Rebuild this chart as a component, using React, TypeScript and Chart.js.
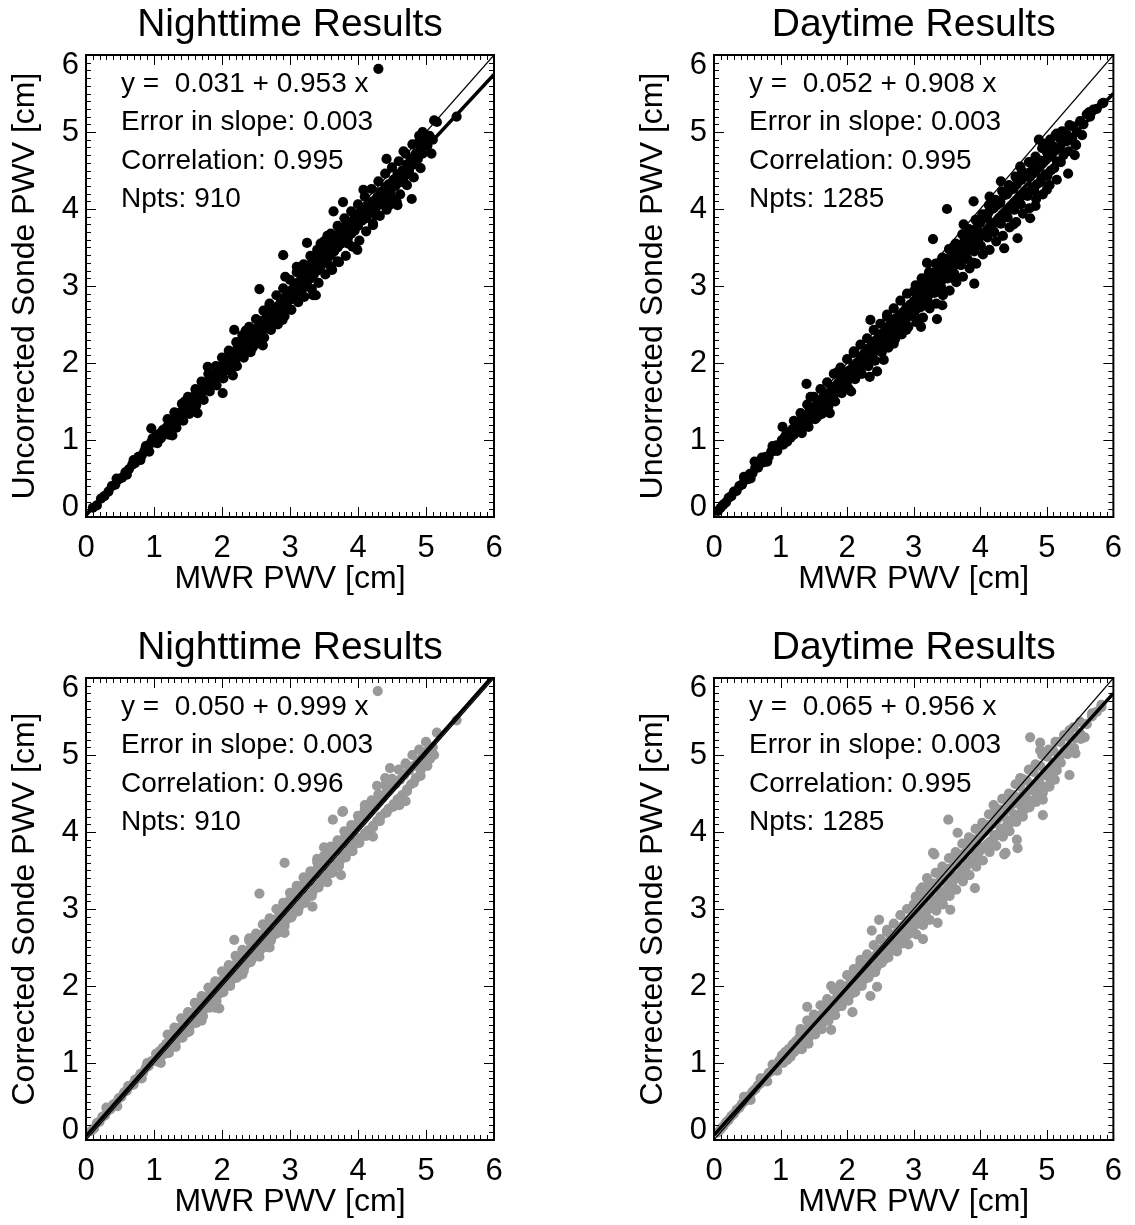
import React, { useEffect, useRef } from "react";
import { Chart, registerables } from "chart.js";

Chart.register(...registerables);

type Pt = [number, number];

const PANEL_TITLES = ["Nighttime Results", "Daytime Results", "Nighttime Results", "Daytime Results"];
const Y_TITLES = [
  "Uncorrected Sonde PWV [cm]",
  "Uncorrected Sonde PWV [cm]",
  "Corrected Sonde PWV [cm]",
  "Corrected Sonde PWV [cm]",
];
const X_TITLE = "MWR PWV [cm]";
const AXIS_TICKS = [0, 1, 2, 3, 4, 5, 6];
const FIT_INTERCEPT = [0.031, 0.052, 0.05, 0.065];
const FIT_SLOPE = [0.953, 0.908, 0.999, 0.956];
const SLOPE_ERROR = [0.003, 0.003, 0.003, 0.003];
const CORRELATION = [0.995, 0.995, 0.996, 0.995];
const NPTS = [910, 1285, 910, 1285];

const NIGHT_UNCORRECTED: Pt[] = [
  [0.10,0.12],[0.16,0.15],[0.22,0.24],[0.27,0.27],[0.33,0.33],[0.38,0.40],[0.43,0.42],[0.48,0.49],[0.53,0.51],[0.58,0.58],
  [0.63,0.62],[0.68,0.68],[0.72,0.70],[0.77,0.78],[0.82,0.80],[0.86,0.86],[0.91,0.89],[0.95,0.96],[1.00,0.97],
  [0.45,0.50],[0.60,0.55],[0.70,0.74],[0.80,0.74],[0.88,0.92],[0.93,0.85],[0.98,1.02],
  [1.03,1.05],[1.05,0.96],[1.08,1.08],[1.10,1.02],[1.13,1.13],[1.15,1.07],[1.18,1.16],[1.20,1.11],[1.23,1.22],[1.26,1.17],
  [1.28,1.25],[1.31,1.21],[1.34,1.32],[1.36,1.26],[1.39,1.36],[1.42,1.33],[1.44,1.42],[1.47,1.38],[1.50,1.47],[1.52,1.41],
  [1.55,1.52],[1.58,1.48],[1.60,1.58],[1.63,1.53],[1.66,1.62],[1.68,1.57],[1.71,1.66],[1.74,1.64],[1.76,1.72],[1.79,1.68],
  [1.82,1.79],[1.84,1.73],[1.87,1.82],[1.90,1.78],[1.92,1.88],[1.95,1.84],[1.98,1.95],
  [0.96,1.15],[1.27,1.06],[1.64,1.35],[1.79,1.95],[2.01,1.61],[1.45,1.50],[1.55,1.40],
  [2.00,1.97],[2.03,1.89],[2.06,2.02],[2.09,1.95],[2.12,2.07],[2.14,2.00],[2.17,2.12],[2.20,2.05],[2.22,2.18],[2.25,2.10],
  [2.28,2.22],[2.30,2.14],[2.33,2.28],[2.36,2.20],[2.38,2.32],[2.41,2.25],[2.44,2.36],[2.46,2.30],[2.49,2.44],[2.52,2.35],
  [2.55,2.48],[2.57,2.40],[2.60,2.55],[2.63,2.45],[2.65,2.58],[2.68,2.52],[2.71,2.62],[2.73,2.55],[2.76,2.68],[2.79,2.60],
  [2.81,2.72],[2.84,2.66],[2.87,2.80],[2.89,2.70],[2.92,2.85],[2.95,2.76],[2.98,2.90],
  [2.16,1.84],[2.18,2.43],[2.60,2.23],[2.55,2.96],[2.89,2.56],[2.35,2.42],[2.45,2.20],[2.70,2.75],[2.85,2.55],
  [3.00,2.82],[3.03,2.95],[3.05,2.87],[3.08,3.00],[3.10,2.90],[3.13,3.05],[3.15,2.95],[3.18,3.10],[3.20,2.98],[3.22,3.18],
  [3.25,3.05],[3.28,3.22],[3.30,3.10],[3.32,3.30],[3.35,3.15],[3.38,3.35],[3.40,3.20],[3.42,3.40],[3.45,3.25],[3.48,3.42],
  [3.50,3.30],[3.52,3.50],[3.55,3.35],[3.58,3.52],[3.60,3.40],[3.62,3.58],[3.65,3.45],[3.68,3.62],[3.70,3.50],[3.72,3.68],
  [3.75,3.55],[3.78,3.70],[3.80,3.58],[3.82,3.78],[3.85,3.62],[3.88,3.80],[3.90,3.68],[3.92,3.85],[3.95,3.72],[3.98,3.90],
  [2.93,3.12],[2.90,3.40],[3.25,3.56],[3.34,2.88],[3.38,2.88],[3.70,3.32],[3.99,3.47],[3.15,3.20],[3.45,3.55],[3.60,3.25],
  [3.10,3.25],[3.55,3.65],
  [4.00,3.78],[4.03,3.95],[4.06,3.85],[4.10,4.00],[4.12,3.88],[4.15,4.05],[4.18,3.95],[4.22,4.10],[4.25,3.98],[4.28,4.15],
  [4.30,4.05],[4.33,4.22],[4.36,4.10],[4.40,4.28],[4.42,4.15],[4.45,4.32],[4.48,4.22],[4.52,4.38],[4.55,4.30],[4.58,4.45],
  [4.62,4.35],[4.65,4.50],[4.68,4.42],[4.72,4.58],[4.75,4.50],[4.78,4.65],[4.82,4.58],[4.85,4.72],[4.88,4.65],[4.92,4.80],
  [4.95,4.72],[4.98,4.88],[5.02,4.82],[5.05,4.95],[5.10,4.90],
  [3.64,3.97],[3.78,4.09],[4.08,4.25],[4.22,3.81],[4.42,4.65],[4.67,4.75],[4.57,4.09],[4.79,4.13],[5.08,4.72],[5.16,5.13],
  [5.12,5.15],[5.45,5.20],[4.30,5.82],[4.58,4.05],[4.90,4.95],[4.95,5.00],
];
const NIGHT_UNCORRECTED_SPREAD: Pt[] = [
  [1.20,1.27],[1.22,1.07],[1.30,1.36],[1.33,1.16],[1.41,1.47],[1.43,1.25],[1.50,1.56],[1.52,1.34],[1.61,1.66],[1.62,1.45],
  [1.70,1.76],[1.73,1.52],[1.80,1.86],[1.82,1.63],[1.91,1.96],[1.92,1.71],[2.00,2.07],[2.02,1.80],[2.10,2.16],[2.12,1.90],
  [2.21,2.27],[2.22,1.96],[2.30,2.36],[2.32,2.07],[2.40,2.47],[2.42,2.14],[2.50,2.57],[2.51,2.25],[2.61,2.68],[2.62,2.33],
  [2.70,2.77],[2.72,2.43],[2.80,2.88],[2.82,2.50],[2.90,2.97],[2.92,2.61],[3.00,3.08],[3.02,2.69],[3.10,3.18],[3.12,2.79],
  [3.20,3.28],[3.21,2.86],[3.30,3.39],[3.32,2.96],[3.40,3.47],[3.42,3.04],[3.50,3.58],[3.52,3.15],[3.60,3.68],[3.62,3.21],
  [3.70,3.78],[3.72,3.31],[3.80,3.88],[3.82,3.39],[3.90,3.97],[3.92,3.51],[4.00,4.06],[4.02,3.59],[4.10,4.16],[4.12,3.71],
  [4.20,4.26],[4.22,3.79],[4.30,4.36],[4.32,3.91],[4.40,4.46],[4.42,3.99],[4.50,4.54],[4.52,4.12],[4.60,4.62],[4.62,4.19],
  [4.70,4.72],[4.72,4.31],[4.80,4.84],[4.82,4.41],[4.90,4.88],[4.92,4.53],[5.00,4.96],[3.86,3.55],[4.26,3.92],[4.46,4.05],
];

const DAY_UNCORRECTED: Pt[] = [
  [0.06,0.08],[0.10,0.12],[0.14,0.16],[0.18,0.19],[0.22,0.25],[0.26,0.27],[0.30,0.33],[0.34,0.34],[0.38,0.40],[0.42,0.42],
  [0.46,0.48],[0.50,0.49],[0.54,0.56],[0.58,0.57],[0.62,0.64],[0.66,0.64],[0.70,0.70],[0.74,0.71],[0.78,0.78],[0.82,0.78],
  [0.86,0.85],[0.90,0.86],[0.94,0.93],[0.98,0.93],
  [0.61,0.72],[0.45,0.52],[0.55,0.50],[0.72,0.77],[0.80,0.72],[0.88,0.92],[0.95,0.86],
  [1.02,1.00],[1.04,0.94],[1.07,1.05],[1.10,0.98],[1.12,1.10],[1.15,1.03],[1.18,1.14],[1.20,1.07],[1.23,1.18],[1.26,1.12],
  [1.28,1.24],[1.31,1.15],[1.34,1.28],[1.36,1.20],[1.39,1.33],[1.42,1.25],[1.44,1.38],[1.47,1.30],[1.50,1.42],[1.52,1.34],
  [1.55,1.47],[1.58,1.38],[1.60,1.52],[1.63,1.43],[1.66,1.56],[1.68,1.48],[1.71,1.60],[1.74,1.52],[1.76,1.65],[1.79,1.56],
  [1.82,1.70],[1.84,1.62],[1.87,1.75],[1.90,1.66],[1.92,1.80],[1.95,1.72],[1.98,1.84],
  [1.03,1.17],[1.39,1.73],[1.45,1.56],[1.74,1.35],[1.70,1.38],[1.20,1.25],[1.55,1.30],[1.85,1.88],
  [2.00,1.76],[2.03,1.90],[2.06,1.82],[2.09,1.96],[2.12,1.86],[2.14,2.00],[2.17,1.92],[2.20,2.06],[2.22,1.96],[2.25,2.12],
  [2.28,2.02],[2.30,2.18],[2.33,2.06],[2.36,2.22],[2.38,2.12],[2.41,2.28],[2.44,2.16],[2.46,2.32],[2.49,2.22],[2.52,2.38],
  [2.55,2.26],[2.57,2.42],[2.60,2.30],[2.63,2.48],[2.65,2.36],[2.68,2.52],[2.71,2.40],[2.73,2.58],[2.76,2.45],[2.79,2.62],
  [2.81,2.50],[2.84,2.66],[2.87,2.55],[2.89,2.72],[2.92,2.60],[2.95,2.76],[2.98,2.65],
  [2.06,1.63],[2.45,1.89],[2.34,1.82],[2.55,2.04],[2.35,2.56],[2.89,2.43],[2.10,2.15],[2.60,2.60],[2.70,2.25],
  [3.00,2.80],[3.02,2.68],[3.05,2.88],[3.08,2.72],[3.10,2.92],[3.13,2.78],[3.15,2.98],[3.18,2.82],[3.20,3.02],[3.22,2.88],
  [3.25,3.08],[3.28,2.92],[3.30,3.12],[3.33,2.98],[3.35,3.18],[3.38,3.02],[3.40,3.22],[3.43,3.08],[3.45,3.28],[3.48,3.12],
  [3.50,3.32],[3.53,3.18],[3.55,3.38],[3.58,3.22],[3.60,3.42],[3.63,3.28],[3.65,3.48],[3.68,3.32],[3.70,3.52],[3.73,3.38],
  [3.75,3.56],[3.78,3.42],[3.80,3.62],[3.83,3.48],[3.85,3.66],[3.88,3.52],[3.90,3.72],[3.93,3.58],[3.95,3.76],[3.98,3.62],
  [3.11,2.47],[3.35,2.57],[3.43,2.75],[3.29,3.61],[3.50,4.00],[3.91,3.03],[3.90,3.30],[3.60,3.10],[3.20,3.30],[3.75,3.80],
  [3.40,2.95],
  [4.00,3.82],[4.03,3.68],[4.06,3.88],[4.10,3.72],[4.12,3.95],[4.15,3.78],[4.18,4.00],[4.22,3.82],[4.25,4.05],[4.28,3.88],
  [4.30,4.10],[4.33,3.92],[4.36,4.18],[4.40,3.98],[4.42,4.22],[4.45,4.02],[4.48,4.28],[4.52,4.08],[4.55,4.32],[4.58,4.12],
  [4.62,4.38],[4.65,4.18],[4.68,4.42],[4.72,4.22],[4.75,4.48],[4.78,4.28],[4.82,4.52],[4.85,4.32],[4.88,4.58],[4.92,4.40],
  [4.95,4.62],[4.98,4.45],[5.02,4.68],[5.06,4.50],[5.10,4.75],[5.15,4.62],[5.20,4.80],[5.25,4.70],[5.30,4.88],[5.38,4.92],
  [5.45,5.00],[5.55,5.10],[5.65,5.20],[5.75,5.30],[5.85,5.38],
  [3.90,4.10],[4.14,4.16],[4.31,4.36],[4.36,3.49],[4.56,3.62],[4.75,3.88],[4.83,4.04],[4.88,4.90],[5.15,4.98],[5.34,5.09],
  [5.64,5.26],[5.83,5.37],[5.32,4.46],[5.15,4.38],[5.42,4.70],[5.44,4.83],[4.95,4.85],[5.05,4.90],[4.60,4.55],[4.50,3.80],
  [5.00,4.25],
];
const DAY_UNCORRECTED_SPREAD: Pt[] = [
  [1.30,1.35],[1.32,1.09],[1.40,1.46],[1.42,1.17],[1.50,1.56],[1.52,1.27],[1.60,1.66],[1.62,1.34],[1.70,1.75],[1.72,1.44],
  [1.80,1.86],[1.82,1.50],[1.90,1.94],[1.92,1.61],[2.00,2.05],[2.02,1.67],[2.10,2.13],[2.12,1.79],[2.20,2.24],[2.22,1.86],
  [2.30,2.32],[2.32,1.96],[2.40,2.43],[2.42,2.03],[2.50,2.51],[2.52,2.14],[2.60,2.63],[2.62,2.20],[2.70,2.71],[2.72,2.31],
  [2.80,2.81],[2.82,2.37],[2.90,2.90],[2.92,2.47],
  [3.00,2.93],[3.03,3.01],[3.01,2.63],[3.04,2.53],[3.10,3.00],[3.12,3.10],[3.11,2.73],[3.14,2.59],
  [3.20,3.10],[3.23,3.18],[3.21,2.81],[3.24,2.71],[3.30,3.17],[3.33,3.29],[3.31,2.91],[3.34,2.77],
  [3.40,3.28],[3.43,3.37],[3.41,2.99],[3.44,2.88],[3.50,3.35],[3.53,3.48],[3.51,3.10],[3.54,2.94],
  [3.60,3.46],[3.63,3.55],[3.61,3.16],[3.64,3.05],[3.70,3.53],[3.73,3.67],[3.71,3.27],[3.74,3.12],
  [3.80,3.64],[3.83,3.74],[3.81,3.35],[3.84,3.23],[3.90,3.71],[3.93,3.86],[3.91,3.45],[3.94,3.29],
  [4.00,3.82],[4.03,3.93],[4.01,3.52],[4.04,3.41],[4.10,3.89],[4.13,4.05],[4.11,3.63],[4.14,3.47],
  [4.20,4.01],[4.23,4.12],[4.21,3.70],[4.24,3.58],[4.30,4.08],[4.33,4.23],[4.31,3.81],[4.34,3.65],
  [4.40,4.19],[4.43,4.31],[4.41,3.89],[4.44,3.76],[4.50,4.26],[4.53,4.42],[4.51,3.99],[4.54,3.83],
  [4.60,4.37],[4.63,4.49],[4.61,4.06],[4.64,3.94],[4.70,4.44],[4.73,4.61],[4.71,4.17],[4.74,4.01],
  [4.80,4.56],[4.83,4.68],[4.81,4.24],[4.84,4.13],[4.90,4.63],[4.93,4.79],[4.91,4.35],[4.94,4.19],
  [5.00,4.74],[5.03,4.85],[5.01,4.43],[5.04,4.31],[5.10,4.81],[5.13,4.96],[5.11,4.53],
  [5.20,4.91],[5.23,5.01],[5.21,4.61],[5.30,4.97],[5.33,4.75],[5.40,5.07],[5.43,4.84],[5.50,5.14],[5.53,4.96],
  [5.60,5.23],[5.70,5.29],
];

const NIGHT_CORRECTED: Pt[] = [
  [0.08,0.12],[0.12,0.15],[0.16,0.22],[0.20,0.24],[0.24,0.30],[0.28,0.32],[0.32,0.38],[0.36,0.40],[0.40,0.46],[0.44,0.48],
  [0.48,0.54],[0.52,0.56],[0.56,0.62],[0.60,0.64],[0.64,0.70],[0.68,0.72],[0.72,0.78],[0.76,0.80],[0.80,0.86],[0.84,0.88],
  [0.88,0.94],[0.92,0.96],[0.96,1.02],[1.00,1.03],
  [0.30,0.42],[0.46,0.44],[0.62,0.70],[0.70,0.72],[0.82,0.80],[0.90,1.00],
  [1.03,1.12],[1.05,1.02],[1.08,1.15],[1.10,1.08],[1.13,1.20],[1.16,1.12],[1.18,1.25],[1.21,1.18],[1.24,1.32],[1.26,1.22],
  [1.29,1.36],[1.32,1.28],[1.34,1.42],[1.37,1.33],[1.40,1.47],[1.42,1.38],[1.45,1.53],[1.48,1.43],[1.50,1.58],[1.53,1.48],
  [1.56,1.64],[1.58,1.54],[1.61,1.68],[1.64,1.58],[1.66,1.74],[1.69,1.64],[1.72,1.80],[1.74,1.70],[1.77,1.84],[1.80,1.74],
  [1.82,1.90],[1.85,1.80],[1.88,1.96],[1.90,1.85],[1.93,2.01],[1.96,1.90],[1.98,2.06],
  [1.96,1.71],[1.90,1.72],[1.50,1.40],[1.30,1.40],[1.10,1.00],[1.70,1.55],
  [2.01,1.96],[2.04,2.12],[2.06,2.00],[2.09,2.18],[2.12,2.05],[2.14,2.22],[2.17,2.10],[2.20,2.28],[2.22,2.14],[2.25,2.32],
  [2.28,2.20],[2.30,2.38],[2.33,2.25],[2.36,2.44],[2.38,2.30],[2.41,2.48],[2.44,2.35],[2.46,2.54],[2.49,2.40],[2.52,2.60],
  [2.55,2.45],[2.57,2.66],[2.60,2.50],[2.63,2.70],[2.65,2.56],[2.68,2.76],[2.71,2.60],[2.73,2.82],[2.76,2.66],[2.79,2.86],
  [2.81,2.72],[2.84,2.92],[2.87,2.76],[2.89,2.98],[2.92,2.82],[2.95,3.04],[2.98,2.88],
  [2.18,2.60],[2.55,3.20],[2.55,2.38],[2.92,2.69],[2.40,2.62],[2.70,2.50],[2.30,2.15],
  [3.00,3.12],[3.03,2.92],[3.05,3.16],[3.08,2.98],[3.10,3.22],[3.13,3.02],[3.15,3.26],[3.18,3.08],[3.20,3.32],[3.23,3.12],
  [3.25,3.36],[3.28,3.18],[3.30,3.42],[3.33,3.22],[3.35,3.46],[3.38,3.28],[3.40,3.52],[3.43,3.32],[3.45,3.56],[3.48,3.38],
  [3.50,3.62],[3.53,3.42],[3.55,3.66],[3.58,3.48],[3.60,3.72],[3.63,3.52],[3.65,3.76],[3.68,3.58],[3.70,3.82],[3.73,3.62],
  [3.75,3.86],[3.78,3.68],[3.80,3.92],[3.83,3.72],[3.85,3.96],[3.88,3.78],[3.90,4.02],[3.93,3.82],[3.95,4.06],[3.98,3.88],
  [2.92,3.60],[3.33,3.03],[3.75,3.44],[3.63,4.16],[3.77,4.26],[3.10,3.30],[3.50,3.80],[3.55,3.35],[3.40,3.65],
  [4.00,4.12],[4.03,3.92],[4.06,4.18],[4.10,3.98],[4.12,4.24],[4.15,4.02],[4.18,4.28],[4.22,4.08],[4.25,4.34],[4.28,4.14],
  [4.30,4.40],[4.33,4.20],[4.36,4.46],[4.40,4.25],[4.42,4.52],[4.45,4.30],[4.48,4.58],[4.52,4.36],[4.55,4.62],[4.58,4.42],
  [4.62,4.68],[4.65,4.48],[4.68,4.74],[4.72,4.55],[4.75,4.80],[4.78,4.62],[4.82,4.86],[4.85,4.70],[4.88,4.92],[4.92,4.80],
  [4.95,4.98],[4.98,4.88],[5.02,5.05],[5.06,4.95],[5.10,5.10],[5.16,5.29],[5.12,5.00],
  [4.22,3.94],[4.61,4.35],[4.28,4.60],[4.47,4.83],[3.78,4.27],[4.29,5.83],[5.45,5.45],[4.10,4.35],[4.70,4.40],[4.40,4.70],
];
const NIGHT_CORRECTED_SPREAD: Pt[] = [
  [1.20,1.37],[1.22,1.13],[1.30,1.46],[1.32,1.21],[1.40,1.58],[1.42,1.33],[1.50,1.66],[1.52,1.41],[1.60,1.78],[1.62,1.52],
  [1.70,1.87],[1.72,1.61],[1.80,1.98],[1.82,1.72],[1.90,2.06],[1.92,1.81],[2.00,2.19],[2.02,1.92],[2.10,2.27],[2.12,2.00],
  [2.20,2.39],[2.22,2.11],[2.30,2.47],[2.32,2.20],[2.40,2.59],[2.42,2.31],[2.50,2.68],[2.52,2.39],[2.60,2.80],[2.62,2.50],
  [2.70,2.88],[2.72,2.59],[2.80,3.00],[2.82,2.69],[2.90,3.08],[2.92,2.78],[3.00,3.21],[3.02,2.89],[3.10,3.29],[3.12,2.97],
  [3.20,3.41],[3.22,3.08],[3.30,3.49],[3.32,3.17],[3.40,3.61],[3.42,3.28],[3.50,3.69],[3.52,3.36],[3.60,3.81],[3.62,3.47],
  [3.70,3.89],[3.72,3.56],[3.80,4.01],[3.82,3.67],[3.90,4.09],[3.92,3.75],[4.00,4.21],[4.02,3.86],[4.10,4.29],[4.12,3.95],
  [4.20,4.41],[4.22,4.06],[4.30,4.49],[4.32,4.14],[4.40,4.61],[4.42,4.25],[4.50,4.69],[4.52,4.33],[4.60,4.81],[4.62,4.44],
  [4.70,4.89],[4.72,4.53],[4.80,5.00],[4.82,4.64],[4.90,5.07],[4.92,4.73],[5.00,5.17],[5.02,4.86],
];

const DAY_CORRECTED: Pt[] = [
  [0.06,0.10],[0.10,0.14],[0.14,0.18],[0.18,0.23],[0.22,0.26],[0.26,0.31],[0.30,0.34],[0.34,0.39],[0.38,0.42],[0.42,0.47],
  [0.46,0.50],[0.50,0.55],[0.54,0.58],[0.58,0.63],[0.62,0.66],[0.66,0.71],[0.70,0.74],[0.74,0.79],[0.78,0.81],[0.82,0.87],
  [0.86,0.89],[0.90,0.95],[0.94,0.97],[0.98,1.03],
  [0.45,0.56],[0.55,0.52],[0.70,0.80],[0.80,0.76],[0.88,0.98],[0.95,0.90],
  [1.02,1.10],[1.04,1.00],[1.07,1.14],[1.10,1.04],[1.12,1.18],[1.15,1.08],[1.18,1.24],[1.20,1.14],[1.23,1.28],[1.26,1.18],
  [1.28,1.33],[1.31,1.22],[1.34,1.38],[1.36,1.28],[1.39,1.43],[1.42,1.32],[1.44,1.48],[1.47,1.38],[1.50,1.52],[1.52,1.42],
  [1.55,1.58],[1.58,1.47],[1.60,1.62],[1.63,1.52],[1.66,1.68],[1.68,1.56],[1.71,1.72],[1.74,1.62],[1.76,1.78],[1.79,1.66],
  [1.82,1.82],[1.84,1.72],[1.87,1.88],[1.90,1.76],[1.92,1.92],[1.95,1.82],[1.98,1.98],
  [1.40,1.73],[1.76,2.00],[1.76,1.43],[1.30,1.40],[1.60,1.48],[1.85,1.95],
  [2.00,1.86],[2.03,2.02],[2.06,1.90],[2.09,2.08],[2.12,1.96],[2.14,2.12],[2.17,2.00],[2.20,2.18],[2.22,2.05],[2.25,2.22],
  [2.28,2.10],[2.30,2.28],[2.33,2.14],[2.36,2.34],[2.38,2.20],[2.41,2.38],[2.44,2.24],[2.46,2.44],[2.49,2.30],[2.52,2.48],
  [2.55,2.34],[2.57,2.54],[2.60,2.40],[2.63,2.58],[2.65,2.45],[2.68,2.64],[2.71,2.50],[2.73,2.68],[2.76,2.55],[2.79,2.74],
  [2.81,2.60],[2.84,2.78],[2.87,2.64],[2.89,2.84],[2.92,2.70],[2.95,2.88],[2.98,2.74],
  [2.08,1.66],[2.35,1.87],[2.45,1.99],[2.37,2.72],[2.48,2.86],[2.92,2.54],[2.20,2.30],[2.60,2.70],[2.75,2.45],
  [3.00,2.94],[3.03,2.80],[3.05,3.00],[3.08,2.84],[3.10,3.05],[3.13,2.90],[3.15,3.10],[3.18,2.94],[3.20,3.16],[3.23,3.00],
  [3.25,3.20],[3.28,3.04],[3.30,3.26],[3.33,3.10],[3.35,3.30],[3.38,3.14],[3.40,3.36],[3.43,3.20],[3.45,3.40],[3.48,3.24],
  [3.50,3.46],[3.53,3.30],[3.55,3.50],[3.58,3.34],[3.60,3.56],[3.63,3.40],[3.65,3.60],[3.68,3.44],[3.70,3.66],[3.73,3.50],
  [3.75,3.70],[3.78,3.54],[3.80,3.76],[3.83,3.60],[3.85,3.80],[3.88,3.64],[3.90,3.86],[3.93,3.70],[3.95,3.90],[3.98,3.74],
  [3.14,2.61],[3.36,2.82],[3.55,2.99],[3.92,3.27],[3.31,3.71],[3.29,3.73],[3.52,4.16],[3.66,3.99],[3.20,3.40],[3.45,3.15],
  [3.80,3.45],[3.10,3.25],
  [4.00,3.96],[4.03,3.80],[4.06,4.00],[4.10,3.84],[4.12,4.06],[4.15,3.88],[4.18,4.10],[4.22,3.94],[4.25,4.16],[4.28,3.98],
  [4.30,4.20],[4.33,4.04],[4.36,4.26],[4.40,4.08],[4.42,4.30],[4.45,4.12],[4.48,4.36],[4.52,4.18],[4.55,4.40],[4.58,4.22],
  [4.62,4.46],[4.65,4.28],[4.68,4.50],[4.72,4.34],[4.75,4.56],[4.78,4.40],[4.82,4.62],[4.85,4.46],[4.88,4.68],[4.92,4.52],
  [4.95,4.74],[4.98,4.58],[5.02,4.80],[5.06,4.66],[5.10,4.90],[5.15,4.80],[5.20,5.00],[5.26,5.05],[5.34,5.10],[5.42,5.22],
  [5.50,5.28],[5.60,5.40],[5.68,5.50],[5.75,5.56],[5.82,5.62],
  [4.36,3.71],[4.56,3.79],[4.38,3.73],[4.55,3.90],[4.94,4.22],[4.94,4.42],[5.12,4.68],[4.50,4.38],[4.75,5.23],[5.26,5.26],
  [5.57,5.23],[5.43,5.02],[4.90,5.06],[4.90,5.16],[5.34,5.32],[5.34,4.74],[5.82,5.65],[5.68,5.54],[4.20,4.35],[4.60,4.70],
  [5.00,5.00],
];
const DAY_CORRECTED_SPREAD: Pt[] = [
  [1.30,1.44],[1.32,1.18],[1.40,1.55],[1.42,1.25],[1.50,1.63],[1.52,1.37],[1.60,1.75],[1.62,1.44],[1.70,1.83],[1.72,1.55],
  [1.80,1.95],[1.82,1.62],[1.90,2.02],[1.92,1.74],[2.00,2.14],[2.02,1.81],[2.10,2.22],[2.12,1.92],[2.20,2.34],[2.22,2.00],
  [2.30,2.41],[2.32,2.11],[2.40,2.53],[2.42,2.18],[2.50,2.61],[2.52,2.30],[2.60,2.73],[2.62,2.37],[2.70,2.81],[2.72,2.48],
  [2.80,2.92],[2.82,2.55],[2.90,3.00],[2.92,2.67],
  [3.00,3.06],[3.03,3.16],[3.01,2.81],[3.04,2.67],[3.10,3.14],[3.13,3.28],[3.11,2.89],[3.14,2.79],
  [3.20,3.25],[3.23,3.35],[3.21,3.00],[3.24,2.86],[3.30,3.33],[3.33,3.47],[3.31,3.08],[3.34,2.98],
  [3.40,3.45],[3.43,3.55],[3.41,3.20],[3.44,3.06],[3.50,3.52],[3.53,3.66],[3.51,3.27],[3.54,3.17],
  [3.60,3.64],[3.63,3.74],[3.61,3.39],[3.64,3.25],[3.70,3.71],[3.73,3.85],[3.71,3.46],[3.74,3.36],
  [3.80,3.83],[3.83,3.93],[3.81,3.58],[3.84,3.44],[3.90,3.90],[3.93,4.04],[3.91,3.65],[3.94,3.55],
  [4.00,4.02],[4.03,4.12],[4.01,3.77],[4.04,3.63],[4.10,4.09],[4.13,4.23],[4.11,3.84],[4.14,3.74],
  [4.20,4.21],[4.23,4.31],[4.21,3.96],[4.24,3.82],[4.30,4.29],[4.33,4.43],[4.31,4.04],[4.34,3.94],
  [4.40,4.40],[4.43,4.50],[4.41,4.15],[4.44,4.01],[4.50,4.48],[4.53,4.62],[4.51,4.23],[4.54,4.13],
  [4.60,4.59],[4.63,4.69],[4.61,4.34],[4.64,4.20],[4.70,4.67],[4.73,4.81],[4.71,4.42],[4.74,4.32],
  [4.80,4.78],[4.83,4.88],[4.81,4.53],[4.84,4.39],[4.90,4.86],[4.93,5.00],[4.91,4.61],[4.94,4.51],
  [5.00,4.98],[5.03,5.07],[5.01,4.73],[5.04,4.59],[5.10,5.05],[5.13,5.17],[5.11,4.80],
  [5.20,5.17],[5.21,4.90],[5.30,5.24],[5.31,5.01],[5.40,5.36],[5.41,5.09],[5.50,5.43],[5.51,5.21],
];

const PANEL_POINTS: Pt[][] = [
  NIGHT_UNCORRECTED.concat(NIGHT_UNCORRECTED_SPREAD),
  DAY_UNCORRECTED.concat(DAY_UNCORRECTED_SPREAD),
  NIGHT_CORRECTED.concat(NIGHT_CORRECTED_SPREAD),
  DAY_CORRECTED.concat(DAY_CORRECTED_SPREAD),
];
const POINT_COLORS = ["#000000", "#000000", "#999999", "#999999"];

const FONT = '"Liberation Sans", Arial, Helvetica, sans-serif';

// canvas placement: [left, top, width, height, layoutPaddingRight]
const PANEL_BOXES = [
  [0, 0, 540, 602, 46],
  [628, 0, 507, 602, 13],
  [0, 623, 540, 602, 46],
  [628, 623, 507, 602, 13],
];

function Panel({ idx }: { idx: number }) {
  const ref = useRef<HTMLCanvasElement | null>(null);
  const [left, top, width, height, padRight] = PANEL_BOXES[idx];

  useEffect(() => {
    const canvas = ref.current;
    if (!canvas) return;
    const lines = [
      `y =  ${FIT_INTERCEPT[idx].toFixed(3)} + ${FIT_SLOPE[idx].toFixed(3)} x`,
      `Error in slope: ${SLOPE_ERROR[idx].toFixed(3)}`,
      `Correlation: ${CORRELATION[idx].toFixed(3)}`,
      `Npts: ${NPTS[idx]}`,
    ];
    const axMin = AXIS_TICKS[0];
    const axMax = AXIS_TICKS[AXIS_TICKS.length - 1];

    const framePlugin = {
      id: "idlFrame",
      afterDatasetsDraw(chart: any) {
        const { ctx, chartArea } = chart;
        const { left: l, right: r, top: t, bottom: b } = chartArea;
        const xs = chart.scales.x;
        const ys = chart.scales.y;
        ctx.save();
        ctx.strokeStyle = "#000";
        ctx.lineWidth = 1;
        ctx.beginPath();
        const nMinor = (AXIS_TICKS.length - 1) * 10;
        for (let i = 0; i <= nMinor; i++) {
          const len = i % 10 === 0 ? 10 : 5;
          const vx = xs.min + ((xs.max - xs.min) * i) / nMinor;
          const px = Math.round(xs.getPixelForValue(vx)) + 0.5;
          ctx.moveTo(px, b);
          ctx.lineTo(px, b - len);
          ctx.moveTo(px, t);
          ctx.lineTo(px, t + len);
          const vy = ys.min + ((ys.max - ys.min) * i) / nMinor;
          const py = Math.round(ys.getPixelForValue(vy)) + 0.5;
          ctx.moveTo(l, py);
          ctx.lineTo(l + len, py);
          ctx.moveTo(r, py);
          ctx.lineTo(r - len, py);
        }
        ctx.stroke();
        ctx.lineWidth = 2;
        ctx.strokeRect(l, t, r - l, b - t);
        ctx.fillStyle = "#000";
        ctx.font = `28px ${FONT}`;
        ctx.textAlign = "left";
        ctx.textBaseline = "middle";
        lines.forEach((s, i) => ctx.fillText(s, l + 35, t + 29 + i * 38.5));
        ctx.restore();
      },
    };

    const chart = new Chart(canvas, {
      type: "scatter",
      data: {
        datasets: [
          {
            type: "line",
            data: [
              { x: axMin, y: FIT_INTERCEPT[idx] + FIT_SLOPE[idx] * axMin },
              { x: axMax, y: FIT_INTERCEPT[idx] + FIT_SLOPE[idx] * axMax },
            ],
            borderColor: "#000",
            borderWidth: 3.5,
            pointRadius: 0,
            fill: false,
            order: 0,
            clip: 0,
          } as any,
          {
            type: "line",
            data: [
              { x: axMin, y: axMin },
              { x: axMax, y: axMax },
            ],
            borderColor: "#000",
            borderWidth: 1.2,
            pointRadius: 0,
            fill: false,
            order: 1,
            clip: 0,
          } as any,
          {
            data: PANEL_POINTS[idx].map(([x, y]) => ({ x, y })),
            backgroundColor: POINT_COLORS[idx],
            borderWidth: 0,
            pointRadius: 5.1,
            order: 2,
            clip: 0,
          } as any,
        ],
      },
      options: {
        animation: false,
        responsive: false,
        devicePixelRatio: 1,
        events: [],
        layout: { padding: { left: 0, right: padRight, top: 0, bottom: 0 } },
        plugins: {
          legend: { display: false },
          tooltip: { enabled: false },
          title: {
            display: true,
            text: PANEL_TITLES[idx],
            color: "#000",
            font: { family: FONT, size: 39, weight: "normal" },
            padding: { top: 1.5, bottom: 6.7 },
            fullSize: false,
          } as any,
        },
        scales: {
          x: {
            type: "linear",
            min: axMin,
            max: axMax,
            afterFit: (s: any) => {
              s.height = 85;
            },
            ticks: {
              stepSize: 1,
              autoSkip: false,
              maxRotation: 0,
              color: "#000",
              padding: 13,
              font: { family: FONT, size: 31 },
            },
            grid: { display: false, drawTicks: false },
            border: { display: false },
            title: {
              display: true,
              text: X_TITLE,
              color: "#000",
              font: { family: FONT, size: 32 },
              padding: { top: 0, bottom: 3.3 },
            },
          },
          y: {
            type: "linear",
            min: axMin,
            max: axMax,
            afterFit: (s: any) => {
              s.width = 86;
            },
            ticks: {
              stepSize: 1,
              autoSkip: false,
              color: "#000",
              padding: 7,
              // end labels sit just inside the frame, as in the original plot
              callback: (v: any) =>
                v === axMax ? ["", String(v)] : v === axMin ? [String(v), ""] : String(v),
              font: (c: any) => ({
                family: FONT,
                size: 31,
                lineHeight:
                  c.tick && (c.tick.value === axMax || c.tick.value === axMin) ? "20px" : 1.2,
              }),
            },
            grid: { display: false, drawTicks: false },
            border: { display: false },
            title: {
              display: true,
              text: Y_TITLES[idx],
              color: "#000",
              font: { family: FONT, size: 32 },
              padding: { top: 5.8, bottom: 0 },
            },
          },
        },
      } as any,
      plugins: [framePlugin],
    });
    return () => chart.destroy();
  }, [idx]);

  return (
    <canvas
      ref={ref}
      width={width}
      height={height}
      style={{ position: "absolute", left, top, width, height }}
    />
  );
}

export default function App() {
  return (
    <div
      style={{
        position: "absolute",
        left: 0,
        top: 0,
        width: 1135,
        height: 1225,
        background: "#ffffff",
        overflow: "hidden",
      }}
    >
      {[0, 1, 2, 3].map((i) => (
        <Panel key={i} idx={i} />
      ))}
    </div>
  );
}
